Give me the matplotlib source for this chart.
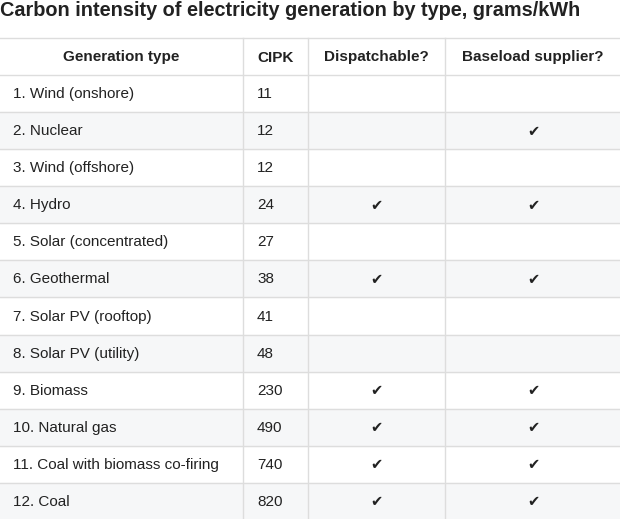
import matplotlib
matplotlib.use("Agg")
import matplotlib.pyplot as plt
from matplotlib.patches import Rectangle

title = "Carbon intensity of electricity generation by type, grams/kWh"
headers = ["Generation type", "CIPK", "Dispatchable?", "Baseload supplier?"]
gen_types = ["1. Wind (onshore)", "2. Nuclear", "3. Wind (offshore)", "4. Hydro",
             "5. Solar (concentrated)", "6. Geothermal", "7. Solar PV (rooftop)",
             "8. Solar PV (utility)", "9. Biomass", "10. Natural gas",
             "11. Coal with biomass co-firing", "12. Coal"]
cipk = [11, 12, 12, 24, 27, 38, 41, 48, 230, 490, 740, 820]
dispatchable = [False, False, False, True, False, True, False, False, True, True, True, True]
baseload = [False, True, False, True, False, True, False, False, True, True, True, True]

W, H = 620, 519
fig = plt.figure(figsize=(W/100, H/100), dpi=100)
ax = fig.add_axes([0, 0, 1, 1])
ax.set_xlim(0, W); ax.set_ylim(H, 0); ax.axis("off")
plt.rcParams['font.family'] = ['Liberation Sans', 'DejaVu Sans']
tc = "#222222"
ax.text(0, 11, title, fontsize=14.3, fontweight="bold", color=tc, va="center", ha="left")

cols = [0, 243, 308, 445, 621]
top, hh, rh = 38, 37, 37.08
line = "#dddddd"
for i, h in enumerate(headers):
    ax.text((cols[i]+cols[i+1])/2, top+hh/2+1, h, fontsize=11, fontweight="bold",
            color=tc, ha="center", va="center")
for r in range(len(gen_types)):
    y0 = top + hh + r*rh
    if r % 2 == 1:
        ax.add_patch(Rectangle((0, y0), W, rh, color="#f6f7f8", zorder=0))
    yc = y0 + rh/2 + 0.5
    ax.text(13, yc, gen_types[r], fontsize=11, color=tc, va="center")
    ax.text(cols[1]+14, yc, str(cipk[r]), fontsize=11, color=tc, va="center")
    if dispatchable[r]:
        ax.text((cols[2]+cols[3])/2, yc, "✔", fontsize=10.5, color=tc, ha="center", va="center",
                family="DejaVu Sans")
    if baseload[r]:
        ax.text((cols[3]+cols[4])/2, yc, "✔", fontsize=10.5, color=tc, ha="center", va="center",
                family="DejaVu Sans")
n = len(gen_types)
for k in range(n+1):
    y = top + hh + k*rh
    ax.plot([0, W], [y, y], color=line, lw=1)
ax.plot([0, W], [top, top], color=line, lw=1)
for x in cols[1:4]:
    ax.plot([x, x], [top, H], color=line, lw=1)
fig.savefig("out.png", dpi=100)
